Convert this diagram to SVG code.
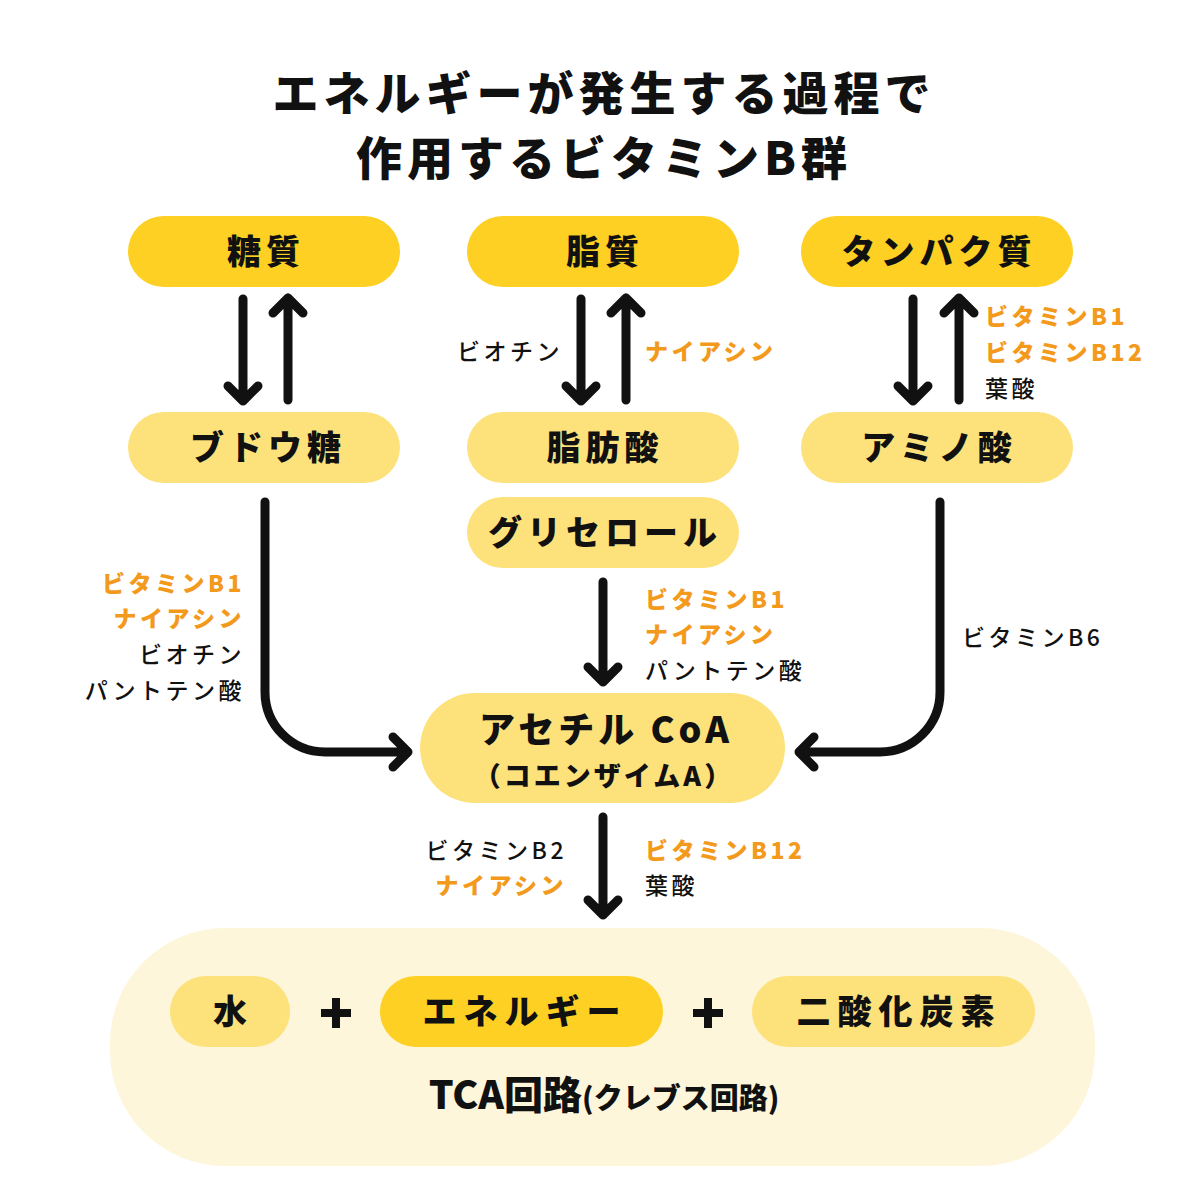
<svg xmlns="http://www.w3.org/2000/svg" width="1200" height="1202" viewBox="0 0 1200 1202">
<style>
text{font-family:"Noto Sans CJK JP","Noto Sans",sans-serif;}
.title{font-size:46px;font-weight:900;fill:#111;letter-spacing:5px;}
.pill-dark{fill:#FDD023;}
.pill-light{fill:#FDE27C;}
.pill-pale{fill:#FEF6DA;}
.nl{font-size:34px;font-weight:900;fill:#111;letter-spacing:5px;}
.lb{font-size:23px;font-weight:500;fill:#111;letter-spacing:3.5px;}
.lo{font-size:23px;font-weight:900;fill:#F39A1C;letter-spacing:3.5px;}
.conn{fill:none;stroke:#111;stroke-width:9;stroke-linecap:round;stroke-linejoin:round;}
</style>
<rect width="1200" height="1202" fill="#FFFFFF"/>
<g id="title">
<text class="title" x="604" y="110" text-anchor="middle">エネルギーが発生する過程で</text>
<text class="title" x="604" y="175" text-anchor="middle">作用するビタミンB群</text>
</g>
<g id="tca">
<rect class="pill-pale" x="110" y="928" width="985" height="238" rx="115"/>
<text class="nl" x="604" y="1109" text-anchor="middle" style="letter-spacing:0px;font-size:39px">TCA回路<tspan style="font-size:29px">(クレブス回路)</tspan></text>
</g>
<g id="n-toushitsu"><rect class="pill-dark" x="128" y="216" width="272" height="71" rx="35.5"/><text class="nl" x="266" y="264" text-anchor="middle">糖質</text></g>
<g id="n-shishitsu"><rect class="pill-dark" x="467" y="216" width="272" height="71" rx="35.5"/><text class="nl" x="605" y="264" text-anchor="middle">脂質</text></g>
<g id="n-tanpaku"><rect class="pill-dark" x="801" y="216" width="272" height="71" rx="35.5"/><text class="nl" x="939" y="264" text-anchor="middle">タンパク質</text></g>
<g id="n-budou"><rect class="pill-light" x="128" y="412" width="272" height="71" rx="35.5"/><text class="nl" x="268" y="460" text-anchor="middle">ブドウ糖</text></g>
<g id="n-shibousan"><rect class="pill-light" x="467" y="412" width="272" height="71" rx="35.5"/><text class="nl" x="605" y="460" text-anchor="middle">脂肪酸</text></g>
<g id="n-amino"><rect class="pill-light" x="801" y="412" width="272" height="71" rx="35.5"/><text class="nl" x="939" y="460" text-anchor="middle">アミノ酸</text></g>
<g id="n-glycerol"><rect class="pill-light" x="467" y="497" width="272" height="71" rx="35.5"/><text class="nl" x="605" y="545" text-anchor="middle">グリセロール</text></g>
<g id="n-acetyl"><rect class="pill-light" x="420" y="693" width="365" height="110" rx="55"/>
<text class="nl" x="606" y="743" text-anchor="middle" style="font-size:36px;letter-spacing:4px">アセチル CoA</text>
<text class="nl" x="604" y="786" text-anchor="middle" style="font-size:27px;letter-spacing:3px">（コエンザイムA）</text></g>
<g id="n-water"><rect class="pill-light" x="170" y="976" width="120" height="71" rx="35.5"/><text class="nl" x="230" y="1024" text-anchor="middle" style="letter-spacing:0">水</text></g>
<g id="n-energy"><rect class="pill-dark" x="380" y="976" width="283" height="71" rx="35.5"/><text class="nl" x="525" y="1024" text-anchor="middle" style="letter-spacing:7px">エネルギー</text></g>
<g id="n-co2"><rect class="pill-light" x="752" y="976" width="283" height="71" rx="35.5"/><text class="nl" x="899" y="1024" text-anchor="middle" style="letter-spacing:7px">二酸化炭素</text></g>
<g id="plus">
<path class="conn" d="M336 998 V1028 M321 1013 H351 M708 998 V1028 M693 1013 H723" style="stroke-linecap:butt;stroke-width:8"/>
</g>
<g id="connectors">
<path class="conn" d="M243 299 V401 M228 386 L243 401 L258 386"/>
<path class="conn" d="M288 400 V298 M273 313 L288 298 L303 313"/>
<path class="conn" d="M581 299 V401 M566 386 L581 401 L596 386"/>
<path class="conn" d="M626 400 V298 M611 313 L626 298 L641 313"/>
<path class="conn" d="M913 299 V401 M898 386 L913 401 L928 386"/>
<path class="conn" d="M959 400 V298 M944 313 L959 298 L974 313"/>
<path class="conn" d="M265 502 V692 A60 60 0 0 0 325 752 H408 M393 737 L408 752 L393 767"/>
<path class="conn" d="M940 502 V692 A60 60 0 0 1 880 752 H799 M814 737 L799 752 L814 767"/>
<path class="conn" d="M603 582 V682 M588 667 L603 682 L618 667"/>
<path class="conn" d="M603 817 V915 M588 900 L603 915 L618 900"/>
</g>
<g id="labels">
<text class="lb" x="457" y="360">ビオチン</text>
<text class="lo" x="645" y="360">ナイアシン</text>
<text class="lo" x="985" y="325">ビタミンB1</text>
<text class="lo" x="985" y="361">ビタミンB12</text>
<text class="lb" x="985" y="397">葉酸</text>
<g text-anchor="end">
<text class="lo" x="245" y="592">ビタミンB1</text>
<text class="lo" x="245" y="627">ナイアシン</text>
<text class="lb" x="245" y="663">ビオチン</text>
<text class="lb" x="245" y="699">パントテン酸</text>
<text class="lb" x="567" y="859">ビタミンB2</text>
<text class="lo" x="567" y="894">ナイアシン</text>
</g>
<text class="lo" x="645" y="608">ビタミンB1</text>
<text class="lo" x="645" y="643">ナイアシン</text>
<text class="lb" x="645" y="679">パントテン酸</text>
<text class="lb" x="962" y="646">ビタミンB6</text>
<text class="lo" x="645" y="859">ビタミンB12</text>
<text class="lb" x="645" y="894">葉酸</text>
</g>
</svg>
